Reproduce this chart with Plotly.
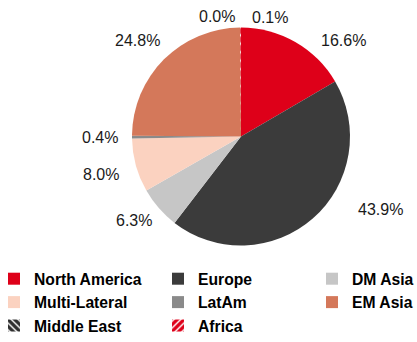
import math
import plotly.graph_objects as go

# Portfolio share by region (%)
regions = ["North America", "Europe", "DM Asia", "Multi-Lateral",
           "LatAm", "EM Asia", "Middle East", "Africa"]
shares = [16.6, 43.9, 6.3, 8.0, 0.4, 24.8, 0.0, 0.1]

colors = ["#DE0019", "#3B3B3B", "#C6C6C6", "#FBD2C0",
          "#8A8A8A", "#D4785A", "#FFFFFF", "#FFFFFF"]
pattern_shapes = ["", "", "", "", "", "", "\\", "/"]
pattern_fg = ["#000000"] * 6 + ["#2E2E2E", "#DE0019"]

# legend columns (region index per column)
legend_columns = [[0, 3, 6], [1, 4, 7], [2, 5]]

W, H = 417, 342
CX, CY, R = 241, 136.5, 109  # pie centre and radius in pixels

# label placement: angular nudge (deg) from slice mid-angle and distance (px)
label_nudge = [17, -21, 3, 0, 0, -2, -11, 14]
label_radius = [141, 157, 136, 145, 141, 141, 122, 123]

FONT = "Liberation Sans, Arial, sans-serif"

fig = go.Figure()
fig.add_trace(go.Pie(
    labels=regions,
    values=shares,
    sort=False,
    direction="clockwise",
    rotation=0,
    textinfo="none",
    hoverinfo="label+percent",
    showlegend=False,
    marker=dict(
        colors=colors,
        line=dict(width=0),
        pattern=dict(shape=pattern_shapes, fgcolor=pattern_fg, fgopacity=1,
                     bgcolor="#FFFFFF", size=6, solidity=0.7),
    ),
    domain=dict(x=[(CX - R) / W, (CX + R) / W],
                y=[1 - (CY + R) / H, 1 - (CY - R) / H]),
))

# legend entries, one column per legend box
legend_ids = ["legend", "legend2", "legend3"]
for lid, col in zip(legend_ids, legend_columns):
    for i in col:
        fig.add_trace(go.Bar(
            x=[None], y=[None], name=regions[i], legend=lid,
            showlegend=True, hoverinfo="skip",
            marker=dict(color=colors[i], line=dict(width=0),
                        pattern=dict(shape=pattern_shapes[i], fgcolor=pattern_fg[i],
                                     fgopacity=1, bgcolor="#FFFFFF",
                                     size=6, solidity=0.7)),
        ))

# percentage labels placed around the pie from each slice's angle
total = sum(shares)
cum = 0.0
for v, nudge, rad in zip(shares, label_nudge, label_radius):
    mid = (cum + v / 2) / total * 360.0
    cum += v
    ang = math.radians(mid + nudge)
    px = CX + rad * math.sin(ang)
    py = CY - rad * math.cos(ang)
    fig.add_annotation(
        x=px / W, y=1 - py / H, xref="paper", yref="paper",
        text=f"{v:.1f}%", showarrow=False,
        xanchor="center", yanchor="middle",
        font=dict(family=FONT, size=16, color="#1A1A1A"),
    )

legend_style = dict(
    orientation="v",
    xanchor="left",
    y=1 - 262 / H, yanchor="top",
    traceorder="normal",
    font=dict(family=FONT, size=15.7, color="#000000", weight="bold"),
    bgcolor="rgba(0,0,0,0)",
    borderwidth=0,
)
legend_x = [-6, 158, 312]

fig.update_layout(
    width=W, height=H,
    margin=dict(l=0, r=0, t=0, b=0, autoexpand=False),
    paper_bgcolor="#FFFFFF",
    plot_bgcolor="#FFFFFF",
    xaxis=dict(visible=False),
    yaxis=dict(visible=False),
    legend=dict(x=legend_x[0] / W, **legend_style),
    legend2=dict(x=legend_x[1] / W, **legend_style),
    legend3=dict(x=legend_x[2] / W, **legend_style),
)

fig.write_html("out.html")
